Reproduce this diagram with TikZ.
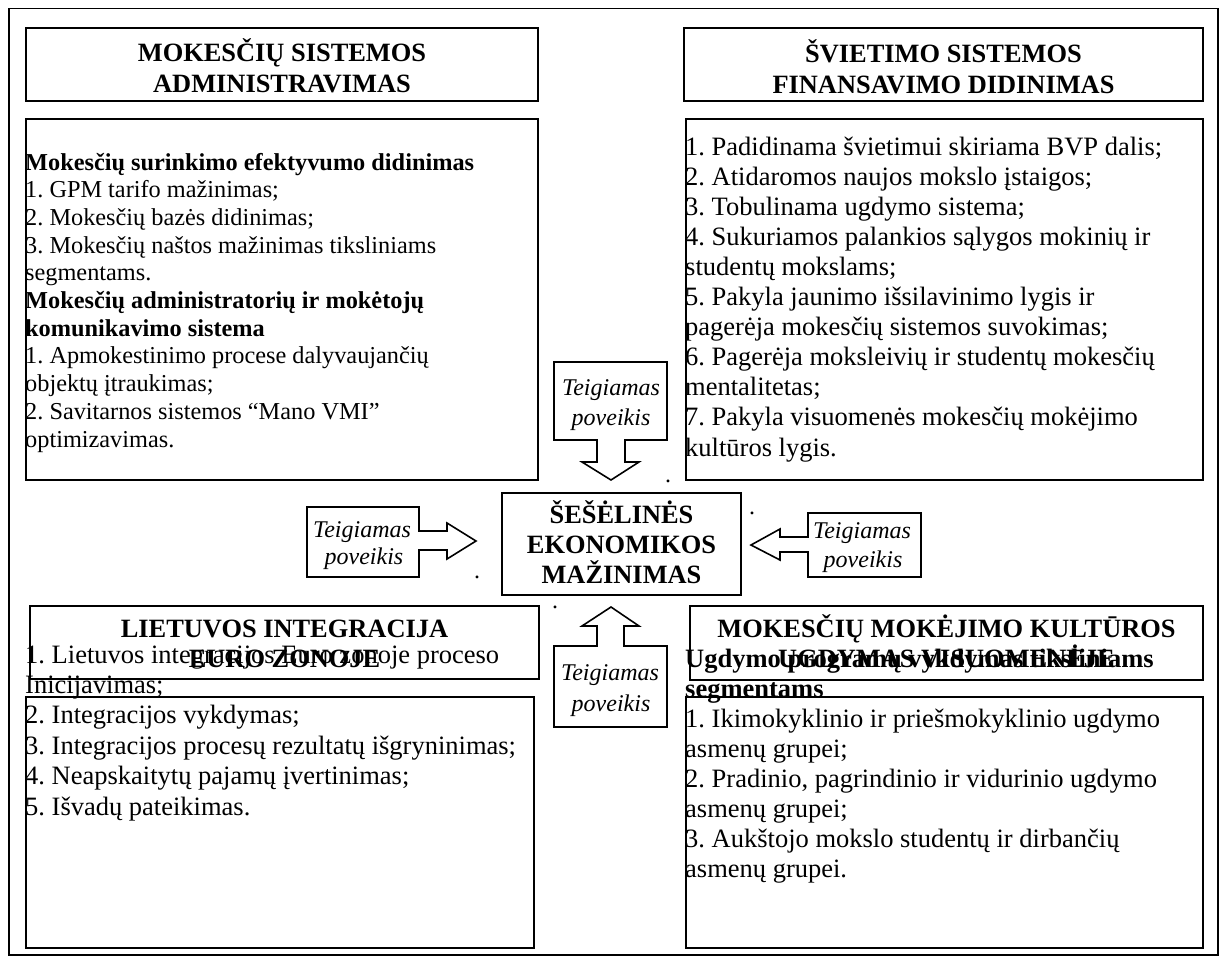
\documentclass[tikz,border=0pt]{standalone}
\usepackage{fontspec}
\setmainfont{Liberation Serif}
\frenchspacing
\begin{document}
\begin{tikzpicture}[x=1pt,y=-1pt,
  frame/.style={draw, line width=1.5pt},
  bx/.style={draw, line width=1.8pt, inner sep=0pt, outer sep=0pt},
  txtS/.style={anchor=base west, inner sep=0pt, font=\fontsize{24.3}{28}\selectfont},
  txtL/.style={anchor=base west, inner sep=0pt, font=\fontsize{26.5}{30}\selectfont},
  ttl/.style={anchor=base, inner sep=0pt, font=\fontsize{26.4}{31}\selectfont\bfseries},
  ital/.style={anchor=base, inner sep=0pt, font=\fontsize{24}{28}\selectfont\itshape},
  arr/.style={draw, line width=1.6pt, line join=miter},
  dot/.style={anchor=base, inner sep=0pt, font=\fontsize{24}{28}\selectfont}]
\useasboundingbox (0,0) rectangle (1224,962);
% outer frame
\draw[frame] (9,8.5) rectangle (1218,955);
% boxes
\node[bx, minimum width=512pt, minimum height=73pt]  (t1) at (282,64.5) {};
\node[bx, minimum width=512pt, minimum height=361pt] (c1) at (282,299.5) {};
\node[bx, minimum width=519pt, minimum height=73pt]  (t2) at (943.5,64.5) {};
\node[bx, minimum width=517pt, minimum height=361pt] (c2) at (944.5,299.5) {};
\node[bx, minimum width=509pt, minimum height=73pt]  (t3) at (284.5,642.5) {};
\node[bx, minimum width=508pt, minimum height=251pt] (c3) at (280,822.5) {};
\node[bx, minimum width=513pt, minimum height=74pt]  (t4) at (946.5,643) {};
\node[bx, minimum width=517pt, minimum height=251pt] (c4) at (944.5,822.5) {};
\node[bx, minimum width=239pt, minimum height=102pt] (cen) at (621.5,544) {};
% arrows (callout shapes)
\draw[arr] (554,362) -- (667,362) -- (667,440) -- (625,440) -- (625,462) -- (639,462) -- (611,480) -- (582,462) -- (597,462) -- (597,440) -- (554,440) -- cycle;
\draw[arr] (554,727) -- (667,727) -- (667,646) -- (624,646) -- (624,626) -- (639,626) -- (611,607) -- (582,626) -- (597,626) -- (597,646) -- (554,646) -- cycle;
\draw[arr] (307,507) -- (419,507) -- (419,531) -- (447,531) -- (447,523) -- (476,541) -- (447,559) -- (447,550) -- (419,550) -- (419,577) -- (307,577) -- cycle;
\draw[arr] (921,513) -- (808,513) -- (808,537) -- (780,537) -- (780,529) -- (751,545) -- (780,560) -- (780,552) -- (808,552) -- (808,577) -- (921,577) -- cycle;
% titles
\node[ttl] (t1a) at (282,61) {MOKESČIŲ SISTEMOS};
\node[ttl] (t1b) at (282,92) {ADMINISTRAVIMAS};
\node[ttl] (t2a) at (943.5,62) {ŠVIETIMO SISTEMOS};
\node[ttl] (t2b) at (943.5,93) {FINANSAVIMO DIDINIMAS};
\node[ttl] (t3a) at (284.5,637) {LIETUVOS INTEGRACIJA};
\node[ttl] (t3b) at (284.5,667) {EURO ZONOJE};
\node[ttl] (t4a) at (946.5,637) {MOKESČIŲ MOKĖJIMO KULTŪROS};
\node[ttl] (t4b) at (946.5,667) {UGDYMAS VISUOMENĖJE};
\node[ttl] (cena) at (621.5,523) {ŠEŠĖLINĖS};
\node[ttl] (cenb) at (621.5,553) {EKONOMIKOS};
\node[ttl] (cenc) at (621.5,583) {MAŽINIMAS};
% arrow labels
\node[ital] (aTa) at (611,395) {Teigiamas};
\node[ital] (aTb) at (611,425) {poveikis};
\node[ital] (aLa) at (362,537) {Teigiamas};
\node[ital] (aLb) at (364,564) {poveikis};
\node[ital] (aRa) at (862,538) {Teigiamas};
\node[ital] (aRb) at (863,567) {poveikis};
\node[ital] (aBa) at (610,680) {Teigiamas};
\node[ital] (aBb) at (611,711) {poveikis};
% top-left content
\foreach \s [count=\i from 0] in {
  {\textbf{Mokesčių surinkimo efektyvumo didinimas}},
  {1. GPM tarifo mažinimas;},
  {2. Mokesčių bazės didinimas;},
  {3. Mokesčių naštos mažinimas tiksliniams},
  {segmentams.},
  {\textbf{Mokesčių administratorių ir mokėtojų}},
  {\textbf{komunikavimo sistema}},
  {1. Apmokestinimo procese dalyvaujančių},
  {objektų įtraukimas;},
  {2. Savitarnos sistemos “Mano VMI”},
  {optimizavimas.}}
  \node[txtS] (ca\i) at ({25},{170+27.7*\i}) {\s};
% top-right content
\foreach \s [count=\i from 0] in {
  {1. Padidinama švietimui skiriama BVP dalis;},
  {2. Atidaromos naujos mokslo įstaigos;},
  {3. Tobulinama ugdymo sistema;},
  {4. Sukuriamos palankios sąlygos mokinių ir},
  {studentų mokslams;},
  {5. Pakyla jaunimo išsilavinimo lygis ir},
  {pagerėja mokesčių sistemos suvokimas;},
  {6. Pagerėja moksleivių ir studentų mokesčių},
  {mentalitetas;},
  {7. Pakyla visuomenės mokesčių mokėjimo},
  {kultūros lygis.}}
  \node[txtL] (cb\i) at ({685},{155+30.1*\i}) {\s};
% bottom-left content
\foreach \s [count=\i from 0] in {
  {1. Lietuvos integracijos Euro zonoje proceso},
  {Inicijavimas;},
  {2. Integracijos vykdymas;},
  {3. Integracijos procesų rezultatų išgryninimas;},
  {4. Neapskaitytų pajamų įvertinimas;},
  {5. Išvadų pateikimas.}}
  \node[txtL] (cc\i) at ({25},{663+30.4*\i}) {\s};
% bottom-right content
\foreach \s [count=\i from 0] in {
  {\textbf{Ugdymo programų vykdymas tiksliniams}},
  {\textbf{segmentams}},
  {1. Ikimokyklinio ir priešmokyklinio ugdymo},
  {asmenų grupei;},
  {2. Pradinio, pagrindinio ir vidurinio ugdymo},
  {asmenų grupei;},
  {3. Aukštojo mokslo studentų ir dirbančių},
  {asmenų grupei.}}
  \node[txtL] (cd\i) at ({685},{667+30*\i}) {\s};
% stray dots
\node[dot] (d1) at (477,578) {.};
\node[dot] (d2) at (668,482) {.};
\node[dot] (d3) at (555,608) {.};
\node[dot] (d4) at (752,514) {.};
\end{tikzpicture}
\end{document}
